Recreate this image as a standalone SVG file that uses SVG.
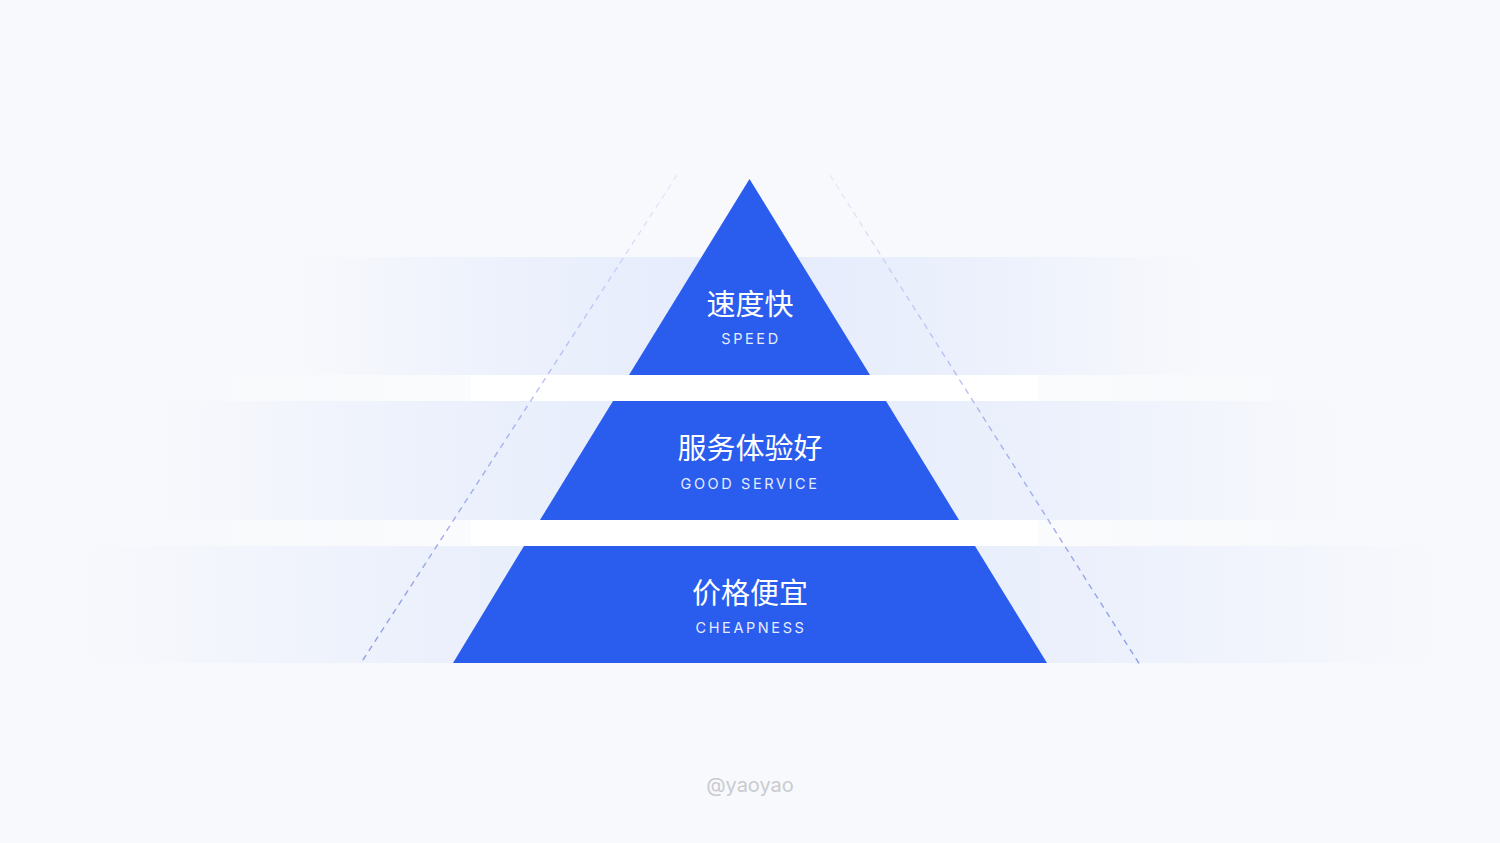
<svg xmlns="http://www.w3.org/2000/svg" width="1500" height="843" viewBox="0 0 1500 843">
<defs>
<linearGradient id="b1" x1="290" y1="0" x2="1210" y2="0" gradientUnits="userSpaceOnUse">
<stop offset="0" stop-color="#E4EBFC" stop-opacity="0"/>
<stop offset="0.25" stop-color="#E4EBFC" stop-opacity="0.6"/>
<stop offset="0.5" stop-color="#E4EBFC" stop-opacity="1"/>
<stop offset="0.75" stop-color="#E4EBFC" stop-opacity="0.6"/>
<stop offset="1" stop-color="#E4EBFC" stop-opacity="0"/>
</linearGradient>
<linearGradient id="b2" x1="150" y1="0" x2="1350" y2="0" gradientUnits="userSpaceOnUse">
<stop offset="0" stop-color="#E4EBFC" stop-opacity="0"/>
<stop offset="0.25" stop-color="#E4EBFC" stop-opacity="0.6"/>
<stop offset="0.5" stop-color="#E4EBFC" stop-opacity="1"/>
<stop offset="0.75" stop-color="#E4EBFC" stop-opacity="0.6"/>
<stop offset="1" stop-color="#E4EBFC" stop-opacity="0"/>
</linearGradient>
<linearGradient id="b3" x1="70" y1="0" x2="1450" y2="0" gradientUnits="userSpaceOnUse">
<stop offset="0" stop-color="#E4EBFC" stop-opacity="0"/>
<stop offset="0.25" stop-color="#E4EBFC" stop-opacity="0.6"/>
<stop offset="0.5" stop-color="#E4EBFC" stop-opacity="1"/>
<stop offset="0.75" stop-color="#E4EBFC" stop-opacity="0.6"/>
<stop offset="1" stop-color="#E4EBFC" stop-opacity="0"/>
</linearGradient>
<linearGradient id="gapg" x1="150" y1="0" x2="1350" y2="0" gradientUnits="userSpaceOnUse">
<stop offset="0" stop-color="#FFFFFF" stop-opacity="0"/>
<stop offset="0.27" stop-color="#FFFFFF" stop-opacity="0.35"/>
<stop offset="0.73" stop-color="#FFFFFF" stop-opacity="0.35"/>
<stop offset="1" stop-color="#FFFFFF" stop-opacity="0"/>
</linearGradient>
<linearGradient id="dashL" x1="0" y1="175" x2="0" y2="663" gradientUnits="userSpaceOnUse">
<stop offset="0" stop-color="#8C9DEA" stop-opacity="0.15"/>
<stop offset="0.5" stop-color="#8C9DEA" stop-opacity="0.7"/>
<stop offset="1" stop-color="#8C9DEA" stop-opacity="1"/>
</linearGradient>
<style>
.zh{font-family:"Noto Sans CJK SC","Noto Sans",sans-serif;font-size:29px;fill:#FFFFFF;text-anchor:middle;font-weight:400}
.en{font-family:Inter,"Noto Sans",sans-serif;font-size:14.5px;fill:#E6ECFF;text-anchor:middle;letter-spacing:2.6px}
.tier{fill:#2A5CEE}
.dash{fill:none;stroke:url(#dashL);stroke-width:1.4;stroke-dasharray:6 5}
.gap{fill:#FFFFFF}
</style>
</defs>
<rect width="1500" height="843" fill="#F8F9FC"/>
<g id="bands">
<rect x="290" y="257" width="920" height="118" fill="url(#b1)"/>
<rect x="150" y="401" width="1200" height="119" fill="url(#b2)"/>
<rect x="70" y="546" width="1380" height="117" fill="url(#b3)"/>
<rect x="150" y="375" width="1200" height="26" fill="url(#gapg)"/>
<rect x="150" y="520" width="1200" height="26" fill="url(#gapg)"/>
<rect class="gap" x="471" y="375" width="567" height="26"/>
<rect class="gap" x="471" y="520" width="567" height="26"/>
</g>
<g id="connectors">
<line class="dash" x1="677" y1="175" x2="361" y2="663"/>
<line class="dash" x1="830" y1="175" x2="1140" y2="665"/>
</g>
<g id="tier-speed">
<polygon class="tier" points="749.5,179 870,375 629,375"/>
<text class="zh" x="750" y="315">速度快</text>
<text class="en" x="751" y="344">SPEED</text>
</g>
<g id="tier-service">
<polygon class="tier" points="613,401 886,401 959,520 540,520"/>
<text class="zh" x="750" y="459">服务体验好</text>
<text class="en" x="750" y="489">GOOD SERVICE</text>
</g>
<g id="tier-cheapness">
<polygon class="tier" points="524,546 975,546 1047,663 453,663"/>
<text class="zh" x="750" y="604">价格便宜</text>
<text class="en" x="751" y="633">CHEAPNESS</text>
</g>
<g id="footer">
<text x="750" y="792" font-family="Inter,'Noto Sans',sans-serif" font-size="20" fill="#C9CBD0" text-anchor="middle">@yaoyao</text>
</g>
</svg>
